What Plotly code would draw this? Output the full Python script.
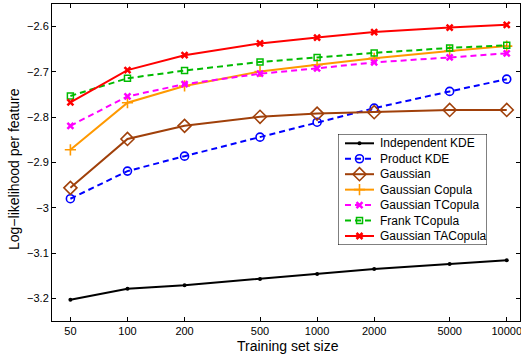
import plotly.graph_objects as go

sizes = [50, 100, 200, 500, 1000, 2000, 5000, 10000]
tick_labels = ["50", "100", "200", "500", "1000", "2000", "5000", "10000"]
y_ticks = [-3.2, -3.1, -3.0, -2.9, -2.8, -2.7, -2.6]
y_tick_labels = ["\u22123.2", "\u22123.1", "\u22123", "\u22122.9", "\u22122.8", "\u22122.7", "\u22122.6"]

independent_kde = [-3.203, -3.179, -3.171, -3.157, -3.146, -3.135, -3.124, -3.116]
product_kde = [-2.980, -2.919, -2.886, -2.844, -2.811, -2.780, -2.743, -2.716]
gaussian = [-2.956, -2.848, -2.819, -2.799, -2.792, -2.789, -2.784, -2.784]
gaussian_copula = [-2.872, -2.768, -2.731, -2.699, -2.684, -2.670, -2.654, -2.643]
gaussian_tcopula = [-2.819, -2.754, -2.727, -2.704, -2.692, -2.679, -2.668, -2.659]
frank_tcopula = [-2.753, -2.714, -2.697, -2.678, -2.668, -2.658, -2.647, -2.641]
gaussian_tacopula = [-2.767, -2.696, -2.663, -2.637, -2.624, -2.612, -2.602, -2.596]

series_names = ["Independent KDE", "Product KDE", "Gaussian", "Gaussian Copula",
                "Gaussian TCopula", "Frank TCopula", "Gaussian TACopula"]
series_values = [independent_kde, product_kde, gaussian, gaussian_copula,
                 gaussian_tcopula, frank_tcopula, gaussian_tacopula]

# styles: color, dash, symbol, marker size, marker line width
styles = [
    ("#000000", "solid", "circle", 4, 0),
    ("#0000ff", "6px,4px", "circle-open", 8, 1.6),
    ("#a0400a", "solid", "diamond-open", 10, 1.6),
    ("#ff9900", "solid", "cross-thin-open", 8, 1.6),
    ("#ff00ff", "6px,4px", "x-thin-open", 6, 2.5),
    ("#00bb00", "6px,4px", "square-open", 6, 1.5),
    ("#ff0000", "solid", "x-thin-open", 6, 2.5),
]

W, H = 521, 358
ML, MR, MT, MB = 52, 1, 4, 37
PW, PH = W - ML - MR, H - MT - MB

def px_x(p):
    return (p - ML) / PW

def px_y(p):
    return 1 - (p - MT) / PH

fig = go.Figure()
for name, vals, (color, dash, sym, msize, mlw) in zip(series_names, series_values, styles):
    fig.add_trace(go.Scatter(
        x=sizes, y=vals, name=name, mode="lines+markers", showlegend=False,
        line=dict(color=color, width=2, dash=dash),
        marker=dict(symbol=sym, size=msize, color=color,
                    line=dict(color=color, width=mlw)),
    ))

# custom legend drawn on a helper axis pair
LX0, LX1, LY0, LY1 = 338, 487, 134, 245
fig.add_trace(go.Scatter(
    x=[0, 1, 1, 0, 0], y=[0, 0, 1, 1, 0], xaxis="x2", yaxis="y2",
    mode="lines", fill="toself", fillcolor="white",
    line=dict(color="black", width=1), showlegend=False, hoverinfo="skip",
))
row_first, row_step = 143.3, 15.45
sx0, sx1, tx = 345, 374, 378
annotations = []
for i, (name, (color, dash, sym, msize, mlw)) in enumerate(zip(series_names, styles)):
    yy = 1 - (row_first + i * row_step - LY0) / (LY1 - LY0)
    xa = (sx0 - LX0) / (LX1 - LX0)
    xb = (sx1 - LX0) / (LX1 - LX0)
    fig.add_trace(go.Scatter(
        x=[xa, xb], y=[yy, yy], xaxis="x2", yaxis="y2", mode="lines",
        line=dict(color=color, width=2, dash=dash), showlegend=False, hoverinfo="skip",
    ))
    fig.add_trace(go.Scatter(
        x=[(xa + xb) / 2], y=[yy], xaxis="x2", yaxis="y2", mode="markers",
        marker=dict(symbol=sym, size=msize, color=color, line=dict(color=color, width=mlw)),
        showlegend=False, hoverinfo="skip",
    ))
    annotations.append(dict(
        x=(tx - LX0) / (LX1 - LX0), y=yy, xref="x2", yref="y2", text=name,
        showarrow=False, xanchor="left", yanchor="middle",
        font=dict(size=12, color="black"),
    ))

annotations.append(dict(
    x=px_x(288), y=px_y(346), xref="paper", yref="paper", text="Training set size",
    showarrow=False, xanchor="center", yanchor="middle", font=dict(size=14),
))
annotations.append(dict(
    x=px_x(14), y=px_y(169), xref="paper", yref="paper", text="Log\u2212likelihood per feature",
    showarrow=False, xanchor="center", yanchor="middle", textangle=-90, font=dict(size=14),
))

fig.update_layout(
    width=W, height=H,
    margin=dict(l=ML, r=MR, t=MT, b=MB),
    paper_bgcolor="white", plot_bgcolor="white",
    font=dict(family="Liberation Sans, Arial, sans-serif", size=11, color="black"),
    showlegend=False,
    annotations=annotations,
    xaxis=dict(
        type="log", range=[1.602, 4.07],
        tickvals=sizes, ticktext=tick_labels,
        ticks="inside", ticklen=4, tickcolor="black",
        showline=True, linecolor="black", linewidth=1, mirror="allticks",
        showgrid=False, zeroline=False, automargin=False,
        ticklabeloverflow="allow", tickfont=dict(size=11),
    ),
    yaxis=dict(
        range=[-3.25, -2.55],
        tickvals=y_ticks, ticktext=y_tick_labels,
        ticks="inside", ticklen=4, tickcolor="black",
        showline=True, linecolor="black", linewidth=1, mirror="allticks",
        showgrid=False, zeroline=False, automargin=False,
        tickfont=dict(size=11),
    ),
    xaxis2=dict(domain=[px_x(LX0), px_x(LX1)], range=[0, 1], visible=False,
                anchor="y2", fixedrange=True),
    yaxis2=dict(domain=[px_y(LY1), px_y(LY0)], range=[0, 1], visible=False,
                anchor="x2", fixedrange=True),
)

fig.write_html(
    "out.html",
    config={"displayModeBar": False},
    post_script="document.body.style.margin='0px';document.body.style.padding='0px';",
)
